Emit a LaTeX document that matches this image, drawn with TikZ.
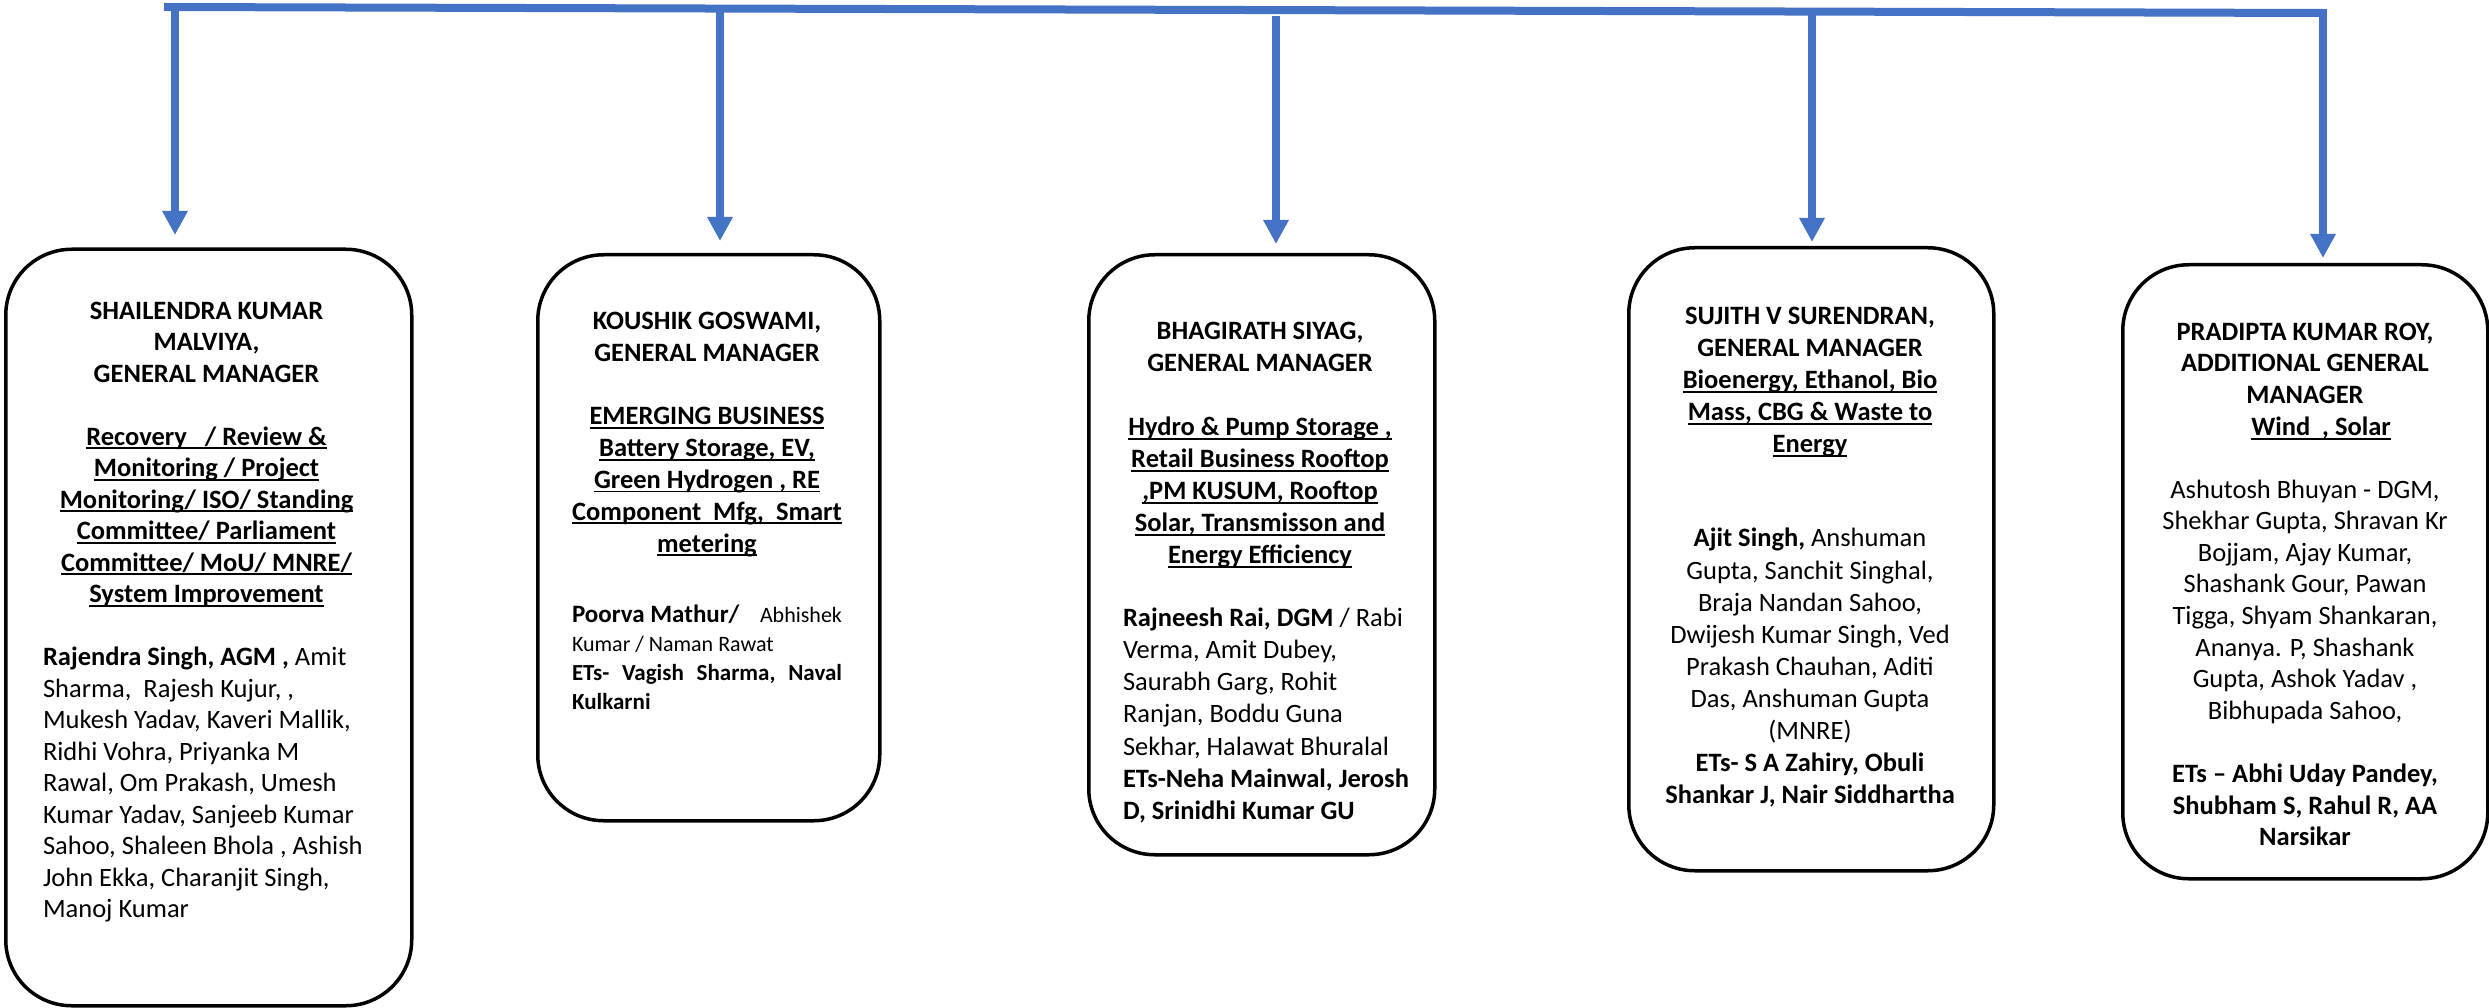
\documentclass[tikz,border=0pt]{standalone}
\usepackage{fontspec}
\setmainfont{Carlito}
\usetikzlibrary{arrows.meta}
\definecolor{bblue}{HTML}{4472C4}
\newsavebox{\ulbox}
\newcommand{\myul}[1]{\sbox{\ulbox}{#1}\rlap{\rule[-4pt]{\wd\ulbox}{1.8pt}}\usebox{\ulbox}}
\newcommand{\fs}[2]{\fontsize{#1}{#2}\selectfont}
\begin{document}
\begin{tikzpicture}[x=1pt,y=-1pt,
  boxstyle/.style={draw=black, line width=3.5pt, rounded corners=66pt, inner sep=0pt, anchor=north west},
  txt/.style={inner sep=0pt, outer sep=0pt, text=black},
  hdc/.style={txt, anchor=north, align=center},
  nml/.style={txt, anchor=north west, align=left},
  barline/.style={draw=bblue, line width=8pt},
  arr/.style={draw=bblue, line width=8pt, -{Triangle[width=24pt,length=24pt]}, fill=bblue}
]
\useasboundingbox (0,0) rectangle (2489,1008);

% boxes
\node[boxstyle, minimum width=406pt, minimum height=756.5pt] (b1) at (4,247.5) {};
\node[boxstyle, minimum width=342pt, minimum height=566pt] (b2) at (536,253) {};
\node[boxstyle, minimum width=346pt, minimum height=600pt] (b3) at (1087,253) {};
\node[boxstyle, minimum width=365pt, minimum height=623pt] (b4) at (1627,246) {};
\node[boxstyle, minimum width=365pt, minimum height=614pt] (b5) at (2121,263) {};

% connectors
\coordinate (barL) at (164,7);
\coordinate (barR) at (2323,13);
\coordinate (s1) at (175,7);    \coordinate (t1) at (175,235);
\coordinate (s2) at (720,8.5);  \coordinate (t2) at (720,241);
\coordinate (s3) at (1276,16);  \coordinate (t3) at (1276,244);
\coordinate (s4) at (1812,11.6);\coordinate (t4) at (1812,242);
\coordinate (s5) at (2323,9);   \coordinate (t5) at (2323,258);
\draw[arr] (s1) -- (t1);
\draw[arr] (s2) -- (t2);
\draw[arr] (s3) -- (t3);
\draw[arr] (s4) -- (t4);
\draw[arr] (s5) -- (t5);
\draw[barline] (barL) -- (barR);

% box 1
\node[hdc, font=\fs{26.5}{31.5}\bfseries] (h1) at (206.5,297) {\strut SHAILENDRA KUMAR\\ MALVIYA,\\ GENERAL MANAGER\\[31.5pt]
 \myul{Recovery\ \ \ / Review \&}\\ \myul{Monitoring / Project}\\ \myul{Monitoring/ ISO/ Standing}\\ \myul{Committee/ Parliament}\\ \myul{Committee/ MoU/ MNRE/}\\ \myul{System Improvement}};
\node[nml, font=\fs{26.5}{31.5}] (n1) at (43,643.5) {\strut\textbf{Rajendra Singh, AGM ,} Amit\\ Sharma,\ \ Rajesh Kujur, ,\\ Mukesh Yadav, Kaveri Mallik,\\ Ridhi Vohra, Priyanka M\\ Rawal, Om Prakash, Umesh\\ Kumar Yadav, Sanjeeb Kumar\\ Sahoo, Shaleen Bhola , Ashish\\ John Ekka, Charanjit Singh,\\ Manoj Kumar};

% box 2
\node[hdc, font=\fs{26.5}{31.8}\bfseries] (h2) at (707,307.2) {\strut KOUSHIK GOSWAMI,\\ GENERAL MANAGER\\[31.8pt]
 \myul{EMERGING BUSINESS}\\ \myul{Battery Storage, EV,}\\ \myul{Green Hydrogen , RE}\\ \myul{Component\ \ Mfg,\ \ Smart}\\ \myul{metering}};
\node[nml, font=\fs{26.5}{29}] (n2) at (572,601.7) {\strut\makebox[270pt][l]{{\fs{25}{29}\bfseries Poorva Mathur/}\hfill{\fs{22}{29}Abhishek}}\\ {\fs{22}{29}Kumar / Naman Rawat}\\ \makebox[270pt][l]{\fs{23}{29}\bfseries ETs- \hfill Vagish \hfill Sharma, \hfill Naval}\\ {\fs{23}{29}\bfseries Kulkarni}};

% box 3
\node[hdc, font=\fs{26.5}{32}\bfseries] (h3) at (1260,317.1) {\strut BHAGIRATH SIYAG,\\ GENERAL MANAGER\\[32pt]
 \myul{Hydro \& Pump Storage ,}\\ \myul{Retail Business Rooftop}\\ \myul{,PM KUSUM, Rooftop}\\ \myul{Solar, Transmisson and}\\ \myul{Energy Efficiency}};
\node[nml, font=\fs{26.5}{32.3}] (n3) at (1123,603.4) {\strut\textbf{Rajneesh Rai, DGM} / Rabi\\ Verma, Amit Dubey,\\ Saurabh Garg, Rohit\\ Ranjan, Boddu Guna\\ Sekhar, Halawat Bhuralal\\ \textbf{ETs-Neha Mainwal, Jerosh}\\ \textbf{D, Srinidhi Kumar GU}};

% box 4
\node[hdc, font=\fs{26.5}{32}\bfseries] (h4) at (1810,302.1) {\strut SUJITH V SURENDRAN,\\ GENERAL MANAGER\\
 \myul{Bioenergy, Ethanol, Bio}\\ \myul{Mass, CBG \& Waste to}\\ \myul{Energy}};
\node[hdc, font=\fs{26.5}{32.1}] (n4) at (1810,524.5) {\strut\textbf{Ajit Singh,} Anshuman\\ Gupta, Sanchit Singhal,\\ Braja Nandan Sahoo,\\ Dwijesh Kumar Singh, Ved\\ Prakash Chauhan, Aditi\\ Das, Anshuman Gupta\\ (MNRE)\\ \textbf{ETs- S A Zahiry, Obuli}\\ \textbf{Shankar J, Nair Siddhartha}};

% box 5
\node[hdc, font=\fs{26.5}{31.9}\bfseries] (h5) at (2305,317.7) {\strut PRADIPTA KUMAR ROY,\\ ADDITIONAL GENERAL\\ MANAGER\\ \hspace*{32pt}\myul{Wind\ \ , Solar}};
\node[hdc, font=\fs{26.5}{31.6}] (n5) at (2305,476) {\strut Ashutosh Bhuyan - DGM,\\ Shekhar Gupta, Shravan Kr\\ Bojjam, Ajay Kumar,\\ Shashank Gour, Pawan\\ Tigga, Shyam Shankaran,\\ Ananya. P, Shashank\\ Gupta, Ashok Yadav ,\\ Bibhupada Sahoo,\\[31.6pt]
 \textbf{ETs – Abhi Uday Pandey,}\\ \textbf{Shubham S, Rahul R, AA}\\ \textbf{Narsikar}};
\end{tikzpicture}
\end{document}
